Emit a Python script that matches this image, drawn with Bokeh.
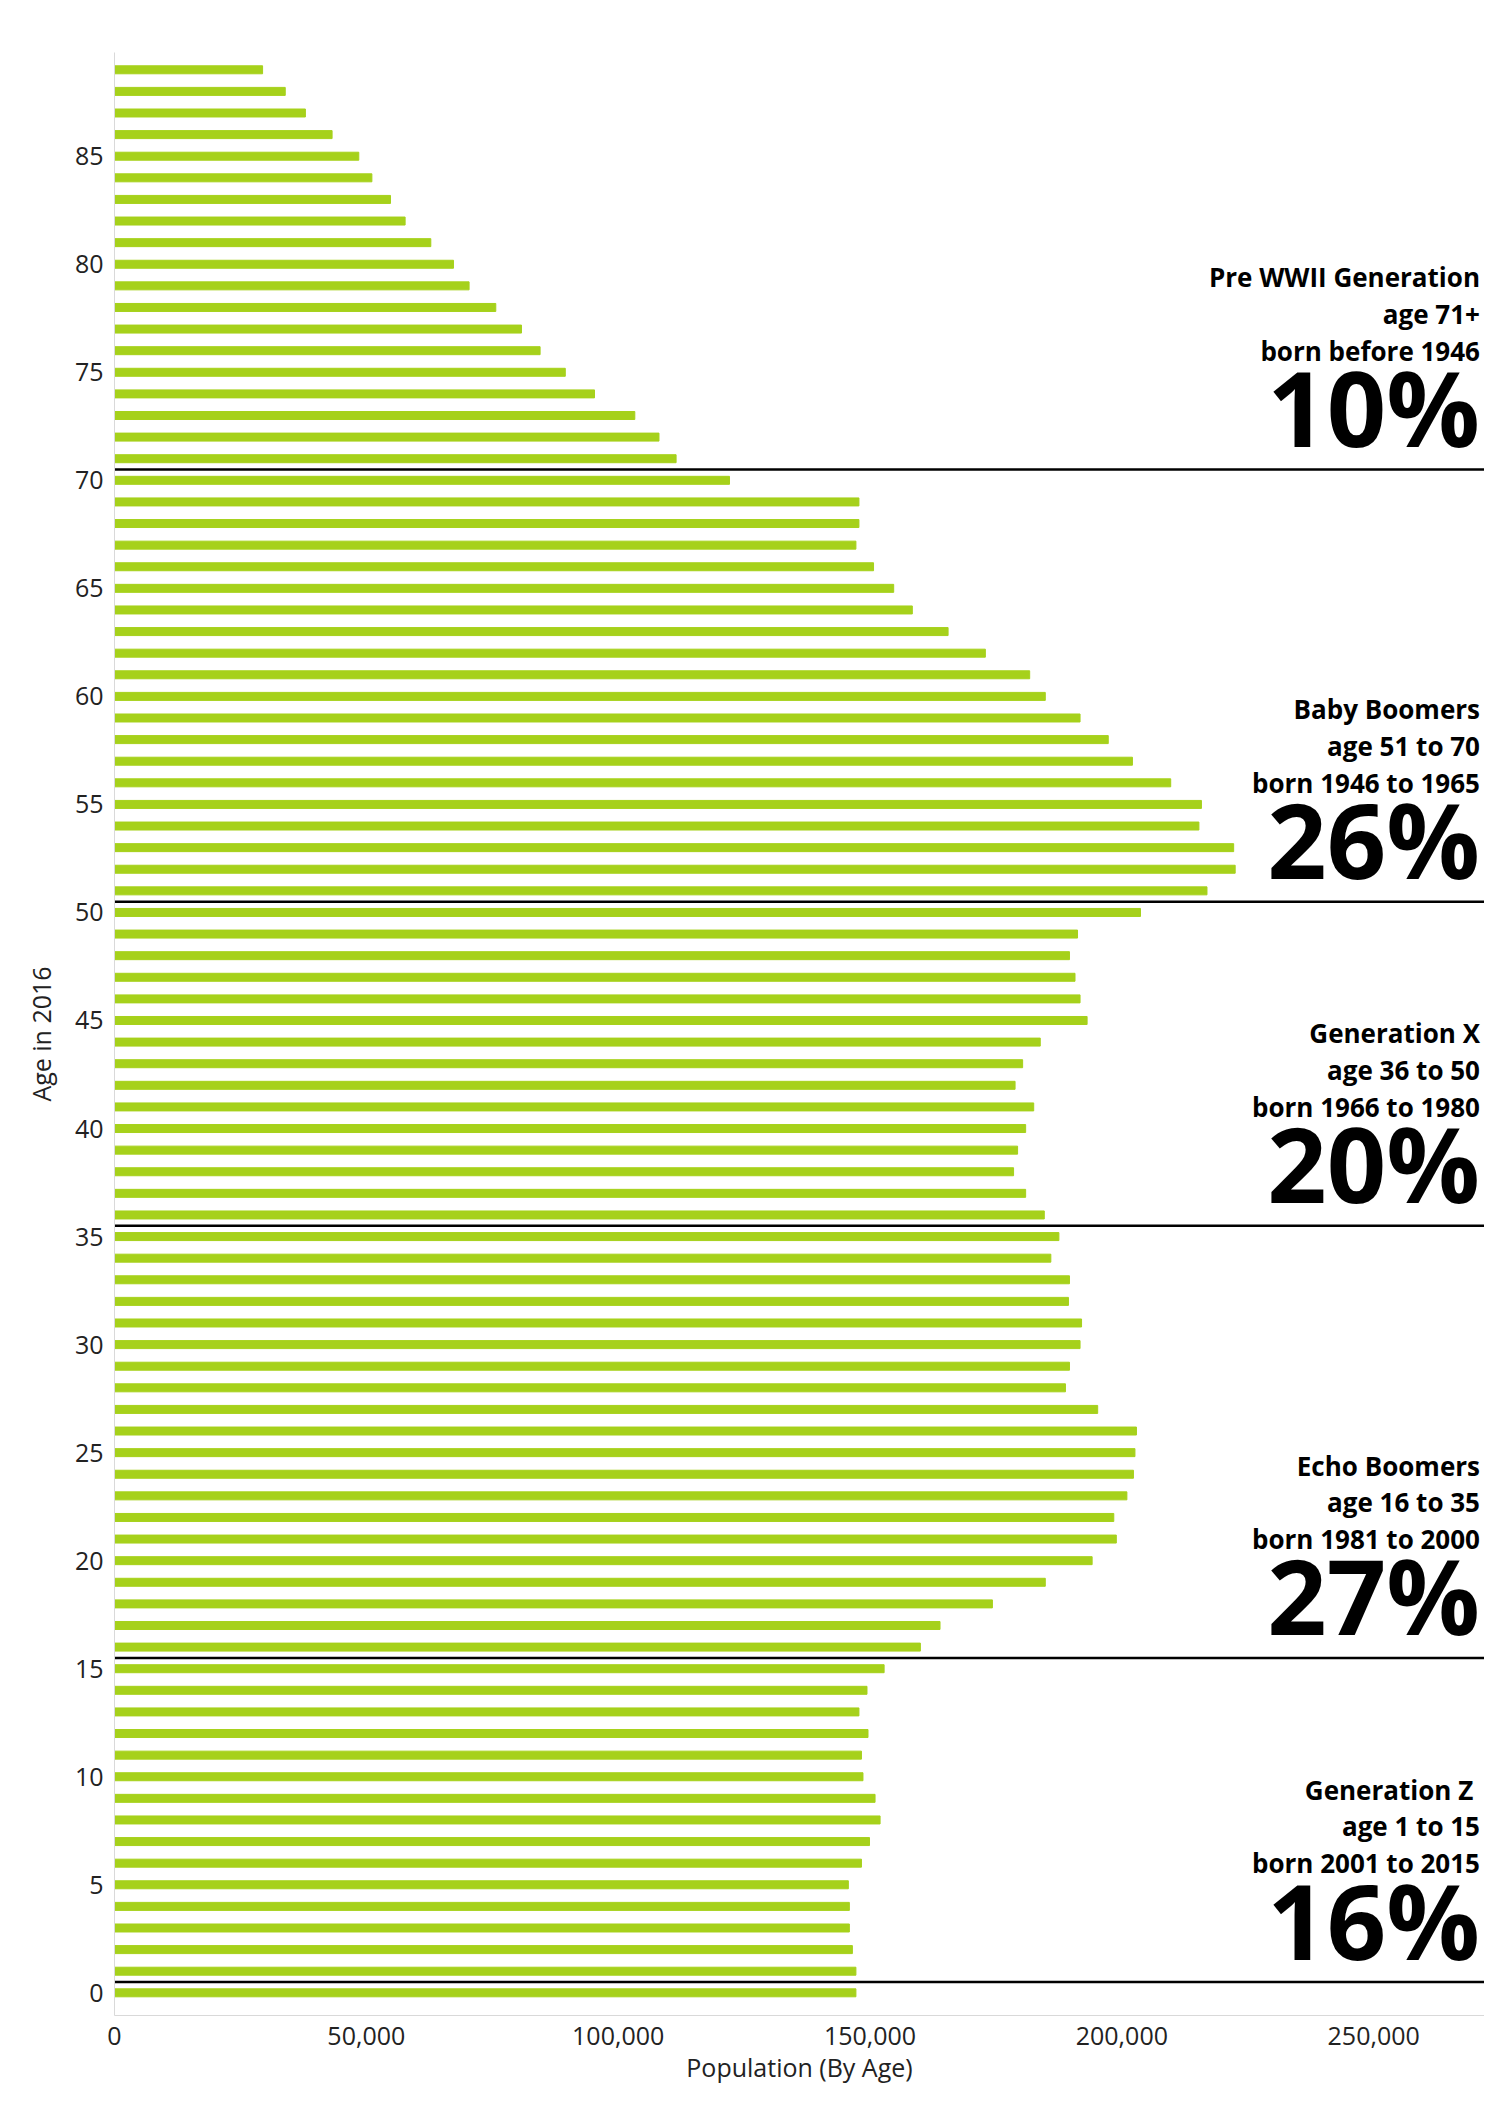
from bokeh.plotting import figure
from bokeh.models import NumeralTickFormatter, FixedTicker, Range1d
from bokeh.core.properties import value
from bokeh.embed import file_html
from bokeh.resources import INLINE

ages = list(range(0, 90))
population = [147200, 147200, 146500, 145900, 145900, 145700, 148300, 149900, 152000, 151000,
              148600, 148300, 149600, 147800, 149400, 152800, 160000, 163900, 174300, 184800,
              194100, 198900, 198400, 201000, 202300, 202600, 202900, 195200, 188800, 189600,
              191700, 192000, 189400, 189600, 185900, 187500, 184600, 180900, 178500, 179300,
              180900, 182500, 178800, 180300, 183800, 193100, 191700, 190700, 189600, 191200,
              203700, 216900, 222500, 222200, 215300, 215800, 209700, 202100, 197300, 191700,
              184800, 181700, 172900, 165500, 158400, 154700, 150700, 147200, 147800, 147800,
              122100, 111500, 108100, 103300, 95300, 89500, 84500, 80800, 75700, 70400,
              67300, 62800, 57700, 54800, 51100, 48500, 43200, 37900, 33900, 29400]

gen_names = ["Pre WWII Generation", "Baby Boomers", "Generation X", "Echo Boomers", "Generation Z "]
gen_ages = ["age 71+", "age 51 to 70", "age 36 to 50", "age 16 to 35", "age 1 to 15"]
gen_born = ["born before 1946", "born 1946 to 1965", "born 1966 to 1980", "born 1981 to 2000", "born 2001 to 2015"]
gen_pct = ["10%", "26%", "20%", "27%", "16%"]
gen_bounds = [70.5, 50.5, 35.5, 15.5, 0.5]

XMAX = 272000
p = figure(width=1484, height=2086, output_backend="svg", toolbar_location=None,
           x_range=Range1d(0, XMAX), y_range=Range1d(-1.05, 89.8),
           min_border_left=114, min_border_right=0, min_border_top=52, min_border_bottom=63)
p.outline_line_color = None
p.xgrid.visible = False
p.ygrid.visible = False

p.hbar(y=ages, left=0, right=population, height=0.37, color="#a6d11b")

p.segment(x0=[0]*len(gen_bounds), x1=[XMAX]*len(gen_bounds), y0=gen_bounds, y1=gen_bounds,
          line_color="black", line_width=2.5)

font = value("Open Sans")
xr = XMAX - 900
for off, arr in [(8.9, gen_names), (7.2, gen_ages), (5.5, gen_born)]:
    p.text(x=[xr]*5, y=[b + off for b in gen_bounds], text=arr, text_font=font,
           text_font_size="26px", text_font_style="bold", text_align="right",
           text_baseline="middle", text_color="black")
p.text(x=[xr]*5, y=[b - 0.35 for b in gen_bounds], text=gen_pct, text_font=font,
       text_font_size="104px", text_font_style="bold", text_align="right",
       text_baseline="bottom", text_color="black")

p.xaxis.ticker = FixedTicker(ticks=[0, 50000, 100000, 150000, 200000, 250000])
p.xaxis.formatter = NumeralTickFormatter(format="0,0")
p.yaxis.ticker = FixedTicker(ticks=list(range(0, 90, 5)))
for ax in (p.xaxis, p.yaxis):
    ax.axis_line_color = "#d9d9d9"
    ax.major_tick_line_color = None
    ax.minor_tick_line_color = None
    ax.major_label_text_font = "Open Sans"
    ax.major_label_text_font_size = "25px"
    ax.major_label_text_color = "#222222"
    ax.axis_label_text_font = "Open Sans"
    ax.axis_label_text_font_size = "25px"
    ax.axis_label_text_font_style = "normal"
    ax.axis_label_text_color = "#222222"
p.xaxis.axis_label = "Population (By Age)"
p.yaxis.axis_label = "Age in 2016"
p.xaxis.axis_label_standoff = 2
p.yaxis.axis_label_standoff = 14

open("out.html", "w").write(file_html(p, INLINE))
